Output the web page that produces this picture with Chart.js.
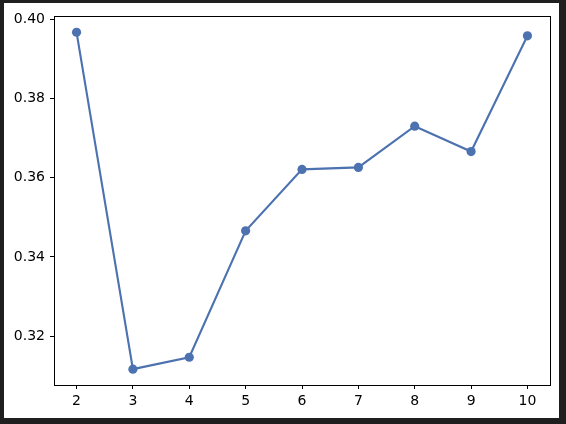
<!DOCTYPE html>
<html>
<head>
<meta charset="utf-8">
<script src="https://cdn.jsdelivr.net/npm/chart.js@4"></script>
<style>
  html, body { margin: 0; padding: 0; background: #1f1f1f; }
  body { width: 566px; height: 424px; position: relative; overflow: hidden; }
  #frame { position: absolute; left: 4px; top: 3px; width: 555px; height: 415px; background: #ffffff; }
  #chart { display: block; }
</style>
</head>
<body>
<div id="frame"><canvas id="chart" width="555" height="415"></canvas></div>
<script>
// x positions and the values
const xValues = [2, 3, 4, 5, 6, 7, 8, 9, 10];
const yValues = [0.3967, 0.3117, 0.3147, 0.3466, 0.3621, 0.3626, 0.3730, 0.3666, 0.3958];
const xTicks = [2, 3, 4, 5, 6, 7, 8, 9, 10];
const yTicks = [0.32, 0.34, 0.36, 0.38, 0.40];

const lineColor = '#4c72b0';

// draw the full box around the plot area, like matplotlib spines
const boxPlugin = {
  id: 'box',
  afterDraw(chart) {
    const a = chart.chartArea;
    const ctx = chart.ctx;
    ctx.save();
    ctx.strokeStyle = '#000';
    ctx.lineWidth = 1;
    ctx.strokeRect(Math.round(a.left) + 0.5, Math.round(a.top) + 0.5,
      Math.round(a.right - a.left), Math.round(a.bottom - a.top));
    ctx.restore();
  }
};

const tickFont = { family: 'DejaVu Sans', size: 14 };

new Chart(document.getElementById('chart').getContext('2d'), {
  type: 'line',
  data: {
    datasets: [{
      data: xValues.map((x, i) => ({ x: x, y: yValues[i] })),
      borderColor: lineColor,
      backgroundColor: lineColor,
      borderWidth: 2.1,
      pointRadius: 4.6,
      pointBorderWidth: 0,
      pointBackgroundColor: lineColor,
      tension: 0,
      fill: false
    }]
  },
  plugins: [boxPlugin],
  options: {
    responsive: false,
    animation: false,
    layout: { padding: { left: 0, top: 13, right: 9, bottom: 0 } },
    plugins: { legend: { display: false }, tooltip: { enabled: false } },
    scales: {
      x: {
        type: 'linear',
        min: 1.6,
        max: 10.4,
        afterBuildTicks: s => { s.ticks = xTicks.map(v => ({ value: v })); },
        afterFit: s => { s.height = 33; },
        grid: { drawOnChartArea: false, drawTicks: true, tickLength: 4, color: '#000' },
        border: { display: true, color: '#000' },
        ticks: { font: tickFont, color: '#000', padding: 4, maxRotation: 0, callback: v => String(v) }
      },
      y: {
        type: 'linear',
        min: 0.3077,
        max: 0.4007,
        afterBuildTicks: s => { s.ticks = yTicks.map(v => ({ value: v })); },
        afterFit: s => { s.width = 50; },
        grid: { drawOnChartArea: false, drawTicks: true, tickLength: 4, color: '#000' },
        border: { display: true, color: '#000' },
        ticks: { font: tickFont, color: '#000', padding: 5, callback: v => v.toFixed(2) }
      }
    }
  }
});
</script>
</body>
</html>
